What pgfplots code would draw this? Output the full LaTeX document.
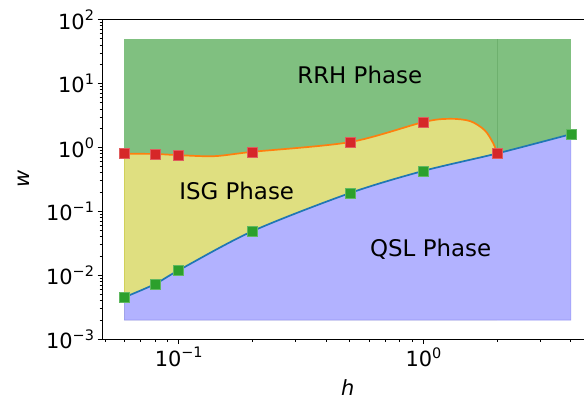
\documentclass[border=0pt]{standalone}
\usepackage{fontspec}
\setmainfont{DejaVu Sans}
\usepackage{pgfplots}
\pgfplotsset{compat=1.18}
\usepgfplotslibrary{fillbetween}

\definecolor{rrh}{RGB}{128,192,128}
\definecolor{rrhedge}{RGB}{110,176,110}
\definecolor{isg}{RGB}{223,223,128}
\definecolor{isgedge}{RGB}{208,208,90}
\definecolor{qsl}{RGB}{178,178,255}
\definecolor{qsledge}{RGB}{150,150,245}
\definecolor{tabblue}{RGB}{31,119,180}
\definecolor{taborange}{RGB}{255,127,14}
\definecolor{tabred}{RGB}{214,39,40}
\definecolor{tabgreen}{RGB}{44,160,44}

\newcommand{\tenp}[1]{10\raisebox{0.42em}{\fontsize{14.5}{14.5}\selectfont #1}}

\begin{document}
\begin{tikzpicture}
  \begin{axis}[
      set layers,
      xmode=log, ymode=log,
      scale only axis,
      width=491.3bp, height=319.8bp,
      xmin=0.0486, xmax=4.94,
      ymin=1e-3, ymax=1e2,
      tick pos=left,
      tick align=outside,
      major tick length=4.5bp,
      minor tick length=2.5bp,
      axis line style={line width=0.9bp},
      every tick/.style={black, line width=0.8bp},
      xtick={0.1,1},
      xticklabels={\tenp{−1},\tenp{0}},
      minor xtick={0.05,0.06,0.07,0.08,0.09,0.2,0.3,0.4,0.5,0.6,0.7,0.8,0.9,2,3,4},
      ytick={1e-3,1e-2,1e-1,1,10,100},
      yticklabels={\tenp{−3},\tenp{−2},\tenp{−1},\tenp{0},\tenp{1},\tenp{2}},
      minor ytick={2e-3,3e-3,4e-3,5e-3,6e-3,7e-3,8e-3,9e-3,
                   2e-2,3e-2,4e-2,5e-2,6e-2,7e-2,8e-2,9e-2,
                   0.2,0.3,0.4,0.5,0.6,0.7,0.8,0.9,
                   2,3,4,5,6,7,8,9,
                   20,30,40,50,60,70,80,90},
      ticklabel style={font=\fontsize{21}{21}\selectfont},
      xlabel={\textit{h}},
      ylabel={\textit{w}},
      label style={font=\fontsize{21}{21}\selectfont},
      xlabel style={at={(axis description cs:0.5,0)}, anchor=center, yshift=-48.7bp},
      ylabel style={at={(axis description cs:-0.16,0.5)}, anchor=center, rotate=0},
    ]
    % RRH region (background)
    \addplot[fill=rrh, draw=none, on layer=axis background] coordinates {(0.06,0.002) (4,0.002) (4,50) (0.06,50)} -- cycle;

    % ISG region: below the upper boundary
    \addplot[draw=none, smooth, name path=upper] coordinates {
      (0.06,0.795) (0.08,0.79) (0.1,0.757) (0.14,0.73) (0.2,0.853) (0.5,1.21)
      (1,2.49) (1.28,2.80) (1.55,2.58) (1.78,1.85) (1.93,1.15) (2,0.805)
    };
    \addplot[draw=none, name path=base1] coordinates {(0.06,0.002) (2,0.002)};
    \addplot[fill=isg, draw=none] fill between[of=upper and base1];

    % QSL region: below the lower boundary
    \addplot[draw=none, smooth, name path=lower] coordinates {
      (0.06,0.00454) (0.08,0.0073) (0.1,0.012) (0.2,0.049) (0.5,0.193)
      (1,0.43) (2,0.805) (4,1.61)
    };
    \addplot[draw=none, name path=base2] coordinates {(0.06,0.002) (4,0.002)};
    \addplot[fill=qsl, draw=qsledge, line width=0.6bp] fill between[of=lower and base2];

    % faint region edges
    \addplot[rrhedge, line width=0.6bp] coordinates {(2,0.805) (2,50)};
    \addplot[isgedge, line width=0.6bp] coordinates {(0.06,0.00454) (0.06,0.795)};

    % boundary lines
    \addplot[tabblue, line width=1.7bp, smooth] coordinates {
      (0.06,0.00454) (0.08,0.0073) (0.1,0.012) (0.2,0.049) (0.5,0.193)
      (1,0.43) (2,0.805) (4,1.61)
    };
    \addplot[taborange, line width=1.7bp, smooth] coordinates {
      (0.06,0.795) (0.08,0.79) (0.1,0.757) (0.14,0.73) (0.2,0.853) (0.5,1.21)
      (1,2.49) (1.28,2.80) (1.55,2.58) (1.78,1.85) (1.93,1.15) (2,0.805)
    };

    % data points
    \addplot[only marks, mark=square*, mark size=5bp,
      mark options={fill=tabgreen, draw=tabgreen!75!white, line width=0.6bp}] coordinates {
      (0.06,0.00454) (0.08,0.0073) (0.1,0.012) (0.2,0.049) (0.5,0.193) (1,0.43) (4,1.61)
    };
    \addplot[only marks, mark=square*, mark size=5bp,
      mark options={fill=tabred, draw=tabred!75!white, line width=0.6bp}] coordinates {
      (0.06,0.795) (0.08,0.79) (0.1,0.757) (0.2,0.853) (0.5,1.21) (1,2.49) (2,0.805)
    };

    \node[font=\fontsize{23}{23}\selectfont] at (axis cs:0.549,13.5) {RRH Phase};
    \node[font=\fontsize{23}{23}\selectfont] at (axis cs:0.1725,0.207) {ISG Phase};
    \node[font=\fontsize{23}{23}\selectfont] at (axis cs:1.07,0.026) {QSL Phase};
  \end{axis}
  \pgfresetboundingbox
  \path[use as bounding box] (-102bp,-64.7bp) rectangle (482bp,339.3bp);
\end{tikzpicture}
\end{document}
